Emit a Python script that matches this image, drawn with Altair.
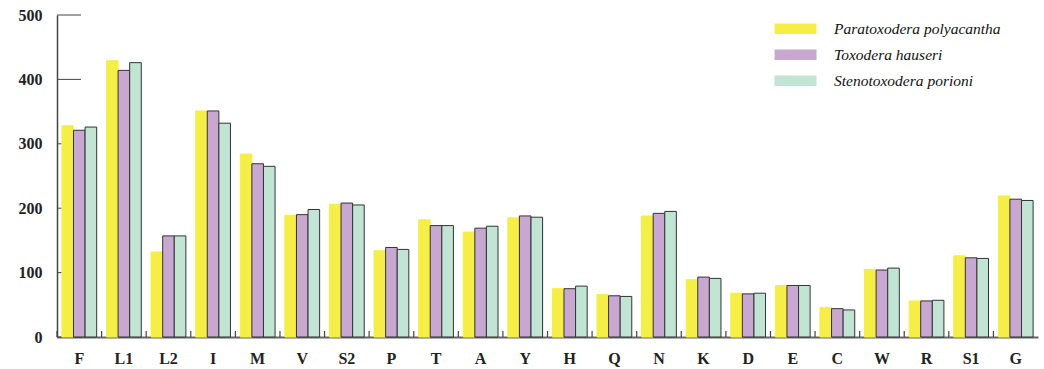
import altair as alt
import pandas as pd

categories = ["F", "L1", "L2", "I", "M", "V", "S2", "P", "T", "A", "Y",
              "H", "Q", "N", "K", "D", "E", "C", "W", "R", "S1", "G"]
species = ["Paratoxodera polyacantha", "Toxodera hauseri", "Stenotoxodera porioni"]
paratoxodera = [328, 429, 132, 351, 284, 189, 206, 134, 182, 163, 185,
                75, 66, 188, 89, 68, 80, 46, 105, 56, 126, 219]
toxodera = [321, 414, 157, 351, 269, 190, 208, 139, 173, 169, 188,
            75, 64, 192, 93, 67, 80, 44, 104, 56, 123, 214]
stenotoxodera = [326, 426, 157, 332, 265, 198, 205, 136, 173, 172, 186,
                 79, 63, 195, 91, 68, 80, 42, 107, 57, 122, 212]
y_ticks = [0, 100, 200, 300, 400, 500]
colors = ["#F5EE46", "#C8A8D0", "#C2E4D4"]
strokes = ["#F5EE46", "#333333", "#333333"]

rows = []
for sp, vals in zip(species, [paratoxodera, toxodera, stenotoxodera]):
    for c, v in zip(categories, vals):
        rows.append({"cat": c, "species": sp, "value": v})
df = pd.DataFrame(rows)
cat_df = pd.DataFrame({"cat": categories})
tick_df = pd.DataFrame({"value": y_ticks})

W, H = 981, 322
font = "Liberation Serif"

xscale = alt.Scale(domain=categories, paddingInner=0.22, paddingOuter=0.11)
yscale = alt.Scale(domain=[0, 500], nice=False)

xaxis = alt.Axis(labelAngle=0, ticks=False, labelPadding=13,
                 labelFont=font, labelFontWeight="bold", labelFontSize=16,
                 labelColor="#222222", domainColor="#666666", domainWidth=2)
yaxis = alt.Axis(values=y_ticks, ticks=False, grid=False, labelPadding=15,
                 labelFont=font, labelFontWeight="bold", labelFontSize=16,
                 labelColor="#222222", domainColor="#444444", domainWidth=1.5)

ytick_layer = alt.Chart(tick_df).mark_rule(color="#444444", strokeWidth=1).encode(
    y=alt.Y("value:Q", scale=yscale, axis=yaxis, title=None),
    x=alt.value(0),
    x2=alt.value(24),
)

bars = alt.Chart(df).mark_bar(strokeWidth=1).encode(
    x=alt.X("cat:N", scale=xscale, sort=categories, title=None, axis=xaxis),
    xOffset=alt.XOffset("species:N", sort=species, scale=alt.Scale(domain=species)),
    y=alt.Y("value:Q", scale=yscale, title=None, axis=yaxis),
    color=alt.Color("species:N", sort=species,
                    scale=alt.Scale(domain=species, range=colors),
                    legend=alt.Legend(title=None, orient="none", legendX=730.75, legendY=6,
                                      symbolType="M-4,-1H4V1H-4Z", symbolSize=110.25,
                                      symbolStrokeWidth=0, symbolOpacity=1,
                                      labelFont=font, labelFontStyle="italic",
                                      labelFontSize=15.5, labelColor="#111111",
                                      labelLimit=400, labelOffset=30.75, rowPadding=9)),
    stroke=alt.Stroke("species:N", scale=alt.Scale(domain=species, range=strokes),
                      legend=None),
)

xtick_layer = alt.Chart(cat_df).mark_rule(color="#444444", strokeWidth=1.2, xOffset=-4.9).encode(
    x=alt.X("cat:N", scale=xscale, sort=categories, bandPosition=0, axis=xaxis, title=None),
    y=alt.value(H - 6),
    y2=alt.value(H),
)

chart = alt.layer(ytick_layer, bars, xtick_layer).properties(
    width=W, height=H,
    autosize=alt.AutoSizeParams(type="none"),
    padding={"left": 57, "top": 15, "right": 6, "bottom": 32},
).configure_view(stroke=None)

chart.save("out.html", embed_options={"renderer": "svg", "actions": False})
